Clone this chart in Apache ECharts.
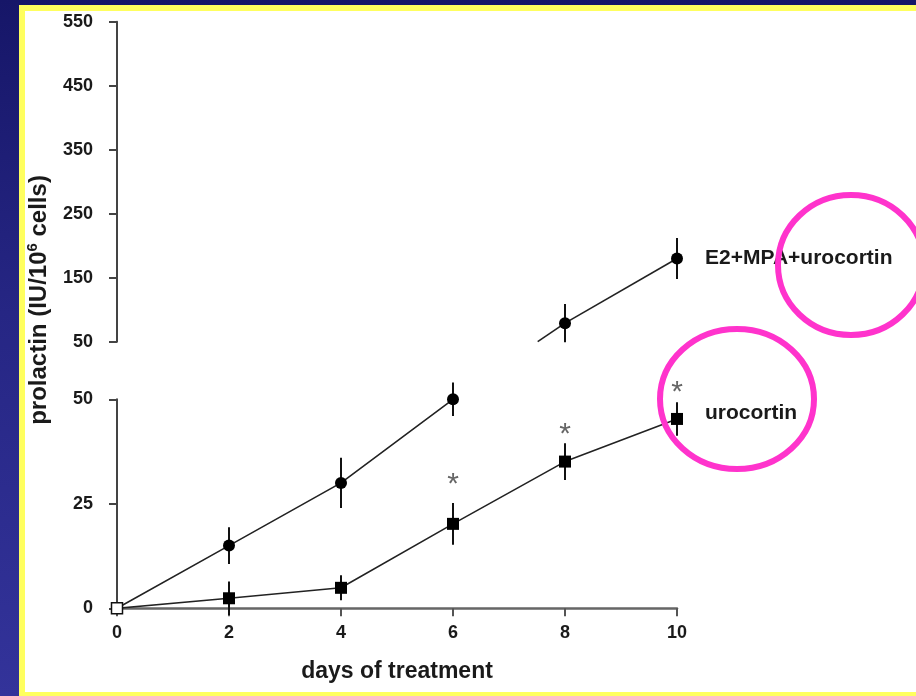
<!DOCTYPE html>
<html>
<head>
<meta charset="utf-8">
<script src="https://cdn.jsdelivr.net/npm/echarts@6/dist/echarts.min.js"></script>
<style>
  html, body { margin:0; padding:0; width:916px; height:696px; overflow:hidden;
    background: linear-gradient(to bottom, #161668 0%, #262684 45%, #33339a 100%); }
  #panel { position:absolute; left:19px; top:5px; width:903px; height:681px;
    background:#ffffff; border-left:6px solid #ffff5e; border-top:6px solid #ffff5e; border-bottom:6px solid #ffff5e; }
  #chart { position:absolute; left:0; top:0; width:916px; height:696px; }
</style>
</head>
<body>
<div id="panel"></div>
<div id="chart"></div>
<script>
// ---- data ----
const days = [0, 2, 4, 6, 8, 10];
const e2Mean = [0, 15, 30, 50, 79, 180];     // E2+MPA+urocortin
const e2Err  = [0, 4.4, 6, 4, 30, 32];
const uroMean = [0, 2.4, 4.9, 20.2, 35.1, 45.3]; // urocortin
const uroErr  = [0, 4, 3, 5, 4.4, 4];
const sigDays = [6, 8, 10];      // asterisks (urocortin)
const sigY    = [31, 43, 53];
const upperTicks = [50, 150, 250, 350, 450, 550];
const lowerTicks = [0, 25, 50];
const xTicks = [0, 2, 4, 6, 8, 10];
const seriesNames = ['E2+MPA+urocortin', 'urocortin'];
const breakValue = 50;

const FONT = "'Liberation Sans', Arial, Helvetica, sans-serif";
const INK = '#1a1a1a';

// grid layout (pixels)
const UPPER = { left: 117, top: 21.7, width: 560, height: 320 };
const LOWER = { left: 117, top: 399.3, width: 560, height: 209 };

// split E2 series across the broken axis
const e2Lower = [], e2Upper = [];
days.forEach((d, i) => {
  if (e2Mean[i] <= breakValue) e2Lower.push([d, e2Mean[i], e2Err[i]]);
  else e2Upper.push([d, e2Mean[i], e2Err[i]]);
});
const lastLowE2 = e2Lower[e2Lower.length - 1];
const uroData = days.map((d, i) => [d, uroMean[i], uroErr[i]]);

function errBar(params, api) {
  const x = api.value(0), m = api.value(1), e = api.value(2);
  if (!e) return null;
  const p1 = api.coord([x, m - e]), p2 = api.coord([x, m + e]);
  return { type: 'line', shape: { x1: p1[0], y1: p1[1], x2: p2[0], y2: p2[1] },
    style: { stroke: '#111', lineWidth: 2 } };
}

const chart = echarts.init(document.getElementById('chart'));
const axisLabelStyle = { fontFamily: FONT, fontWeight: 'bold', fontSize: 18, color: INK };

chart.setOption({
  animation: false,
  backgroundColor: 'transparent',
  grid: [ UPPER, LOWER ],
  xAxis: [
    { gridIndex: 0, type: 'value', min: 0, max: 10, show: false },
    { gridIndex: 1, type: 'value', min: 0, max: 10, interval: 2,
      axisLine: { show: true, lineStyle: { color: '#666', width: 2.5 } },
      axisTick: { show: true, length: 8, lineStyle: { color: '#555', width: 2 } },
      axisLabel: Object.assign({ margin: 16, formatter: v => xTicks.includes(v) ? String(v) : '' }, axisLabelStyle),
      splitLine: { show: false },
      name: 'days of treatment', nameLocation: 'middle', nameGap: 52,
      nameTextStyle: { fontFamily: FONT, fontWeight: 'bold', fontSize: 23, color: INK } }
  ],
  yAxis: [
    { gridIndex: 0, type: 'value', min: upperTicks[0], max: upperTicks[upperTicks.length - 1], interval: 100,
      axisLine: { show: true, lineStyle: { color: '#444', width: 2 } },
      axisTick: { show: true, length: 8, lineStyle: { color: '#444', width: 2 } },
      axisLabel: Object.assign({ margin: 24 }, axisLabelStyle),
      splitLine: { show: false } },
    { gridIndex: 1, type: 'value', min: lowerTicks[0], max: lowerTicks[lowerTicks.length - 1], interval: 25,
      axisLine: { show: true, lineStyle: { color: '#444', width: 2 } },
      axisTick: { show: true, length: 8, lineStyle: { color: '#444', width: 2 } },
      axisLabel: Object.assign({ margin: 24 }, axisLabelStyle),
      splitLine: { show: false } }
  ],
  series: [
    // error bars
    { type: 'custom', xAxisIndex: 1, yAxisIndex: 1, clip: false, z: 3,
      data: e2Lower, renderItem: errBar },
    { type: 'custom', xAxisIndex: 0, yAxisIndex: 0, clip: false, z: 3,
      data: e2Upper, renderItem: errBar },
    { type: 'custom', xAxisIndex: 1, yAxisIndex: 1, clip: false, z: 3,
      data: uroData, renderItem: errBar },
    // E2 lower part
    { name: seriesNames[0], type: 'line', xAxisIndex: 1, yAxisIndex: 1, z: 4,
      symbol: 'circle', symbolSize: 12, itemStyle: { color: '#000' },
      lineStyle: { color: '#222', width: 1.6 },
      data: e2Lower.map((p, i) => i === 0 ? { value: [p[0], p[1]], symbol: 'none' } : [p[0], p[1]]) },
    // E2 upper part
    { name: seriesNames[0], type: 'line', xAxisIndex: 0, yAxisIndex: 0, z: 4,
      symbol: 'circle', symbolSize: 12, itemStyle: { color: '#000' },
      lineStyle: { color: '#222', width: 1.6 },
      data: e2Upper.map((p, i) => i === e2Upper.length - 1 ? {
        value: [p[0], p[1]],
        label: { show: true, position: 'right', distance: 22, formatter: seriesNames[0],
          fontFamily: FONT, fontWeight: 'bold', fontSize: 21, color: INK }
      } : [p[0], p[1]]) },
    // segment joining the last lower-panel point to the first upper-panel point,
    // visible only above the axis break (drawn in the upper panel)
    { type: 'custom', xAxisIndex: 0, yAxisIndex: 0, clip: false, z: 4,
      data: [[lastLowE2[0], lastLowE2[1], e2Upper[0][0], e2Upper[0][1]]],
      renderItem: function (params, api) {
        const ax = api.coord([api.value(0), breakValue])[0];
        const ay = LOWER.top + (breakValue - api.value(1)) / breakValue * LOWER.height;
        const b = api.coord([api.value(2), api.value(3)]);
        const yCut = api.coord([0, breakValue])[1];
        const t = (ay - yCut) / (ay - b[1]);
        return { type: 'line', shape: { x1: ax + (b[0] - ax) * t, y1: yCut, x2: b[0], y2: b[1] },
          style: { stroke: '#222', lineWidth: 1.6 } };
      } },
    // urocortin
    { name: seriesNames[1], type: 'line', xAxisIndex: 1, yAxisIndex: 1, z: 4,
      symbol: 'rect', symbolSize: 12, itemStyle: { color: '#000' },
      lineStyle: { color: '#222', width: 1.6 },
      data: uroData.map((p, i) => {
        if (i === 0) return { value: [p[0], p[1]], symbolSize: 11,
          itemStyle: { color: '#fff', borderColor: '#111', borderWidth: 1.5 } };
        if (i === uroData.length - 1) return { value: [p[0], p[1]],
          label: { show: true, position: 'right', distance: 22, offset: [0, -6], formatter: seriesNames[1],
            fontFamily: FONT, fontWeight: 'bold', fontSize: 21, color: INK } };
        return [p[0], p[1]];
      }) },
    // significance asterisks
    { type: 'custom', xAxisIndex: 1, yAxisIndex: 1, clip: false, z: 5,
      data: sigDays.map((d, i) => [d, sigY[i]]),
      renderItem: function (params, api) {
        const p = api.coord([api.value(0), api.value(1)]);
        return { type: 'text', x: p[0], y: p[1] + 6,
          style: { text: '*', fontFamily: FONT, fontSize: 30, fill: '#666', align: 'center', verticalAlign: 'middle' } };
      } }
  ],
  graphic: [
    { type: 'text', x: 39, y: 300, rotation: Math.PI / 2, z: 10,
      style: {
        text: '{a|prolactin (IU/10}{s|6}{a| cells)}',
        align: 'center', verticalAlign: 'middle',
        rich: {
          a: { fontFamily: FONT, fontWeight: 'bold', fontSize: 24, fill: INK, lineHeight: 27 },
          s: { fontFamily: FONT, fontWeight: 'bold', fontSize: 15, fill: INK, verticalAlign: 'top', lineHeight: 15 }
        }
      } },
    { type: 'ellipse', z: 20, shape: { cx: 851, cy: 265, rx: 73, ry: 70 },
      style: { fill: 'none', stroke: '#ff33cc', lineWidth: 6 } },
    { type: 'ellipse', z: 20, shape: { cx: 737, cy: 399, rx: 77, ry: 70 },
      style: { fill: 'none', stroke: '#ff33cc', lineWidth: 6 } }
  ]
});
</script>
</body>
</html>
